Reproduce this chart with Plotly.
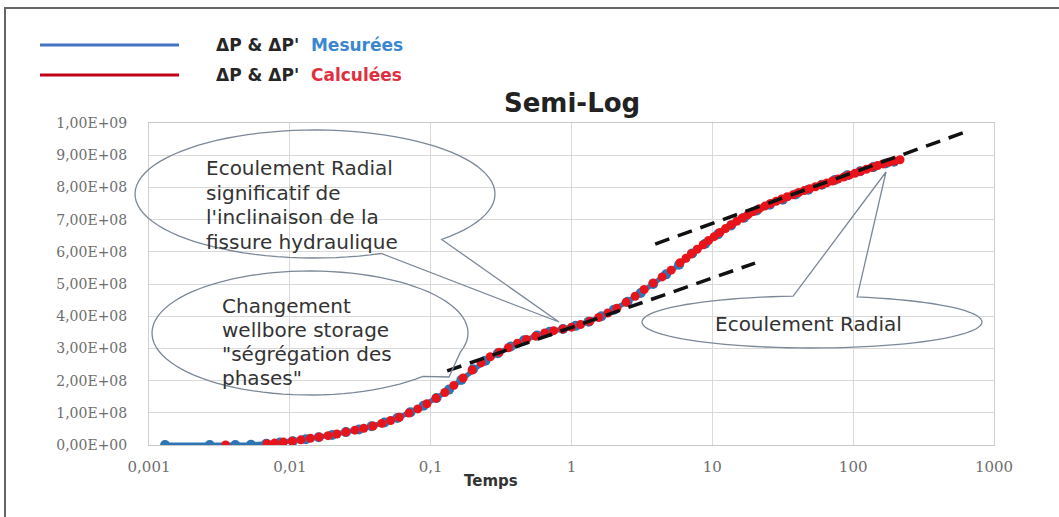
import math
import plotly.graph_objects as go

# ---------------- data ----------------
# Mesurées (blue): time and pressure change (units of 1e8)
blue_t = [0.0013, 0.0027, 0.0041, 0.0053, 0.0068, 0.0085, 0.0105, 0.013, 0.016, 0.02,
          0.025, 0.031, 0.038, 0.047, 0.058, 0.072, 0.089, 0.11, 0.135, 0.165,
          0.2, 0.245, 0.3, 0.37, 0.46, 0.57, 0.7, 0.87, 1.07, 1.32,
          1.63, 2.0, 2.5, 3.1, 3.8, 4.7, 5.8, 7.2, 8.9, 11,
          13.6, 16.8, 20.7, 25.6, 31.6, 39, 48, 60, 74, 91,
          112, 139, 170, 195]
blue_dp = [0, 0, 0, 0.01, 0.04, 0.08, 0.12, 0.18, 0.24, 0.31,
           0.40, 0.48, 0.58, 0.70, 0.84, 1.02, 1.22, 1.46, 1.72, 2.02,
           2.35, 2.62, 2.85, 3.06, 3.25, 3.40, 3.52, 3.60, 3.70, 3.83,
           4.00, 4.20, 4.45, 4.72, 5.00, 5.30, 5.60, 5.95, 6.25, 6.55,
           6.82, 7.06, 7.28, 7.46, 7.62, 7.78, 7.93, 8.08, 8.23, 8.38,
           8.50, 8.63, 8.74, 8.80]

# Calculées (red)
red_t = [0.0035, 0.0069, 0.0078, 0.009, 0.0104, 0.012, 0.014, 0.0162, 0.0187, 0.0216,
         0.025, 0.029, 0.0335, 0.039, 0.045, 0.052, 0.06, 0.07, 0.081, 0.094,
         0.109, 0.126, 0.146, 0.17, 0.197, 0.228, 0.265, 0.307, 0.356, 0.413,
         0.479, 0.556, 0.645, 0.748, 0.868, 1.0, 1.16, 1.35, 1.56, 1.81,
         2.1, 2.44, 2.83, 3.28, 3.8, 4.4, 5.1, 5.9, 6.5, 7.1,
         7.8, 8.6, 9.4, 10.3, 11.3, 12.4, 13.6, 14.9, 16.3, 17.9,
         19.6, 21.5, 23.6, 25.9, 28.4, 31.1, 34.1, 37.4, 41, 45,
         49.3, 54, 59.2, 65, 71.2, 78, 85.6, 93.8, 103, 113,
         124, 136, 149, 163, 179, 196, 215]
red_dp = [0, 0.04, 0.06, 0.09, 0.12, 0.16, 0.21, 0.25, 0.29, 0.34,
          0.40, 0.46, 0.52, 0.59, 0.67, 0.76, 0.86, 0.99, 1.12, 1.28,
          1.45, 1.63, 1.85, 2.08, 2.33, 2.55, 2.74, 2.88, 3.02, 3.16,
          3.28, 3.38, 3.48, 3.55, 3.60, 3.66, 3.74, 3.84, 3.96, 4.10,
          4.25, 4.43, 4.62, 4.83, 5.03, 5.22, 5.43, 5.66, 5.80, 5.94,
          6.08, 6.22, 6.35, 6.47, 6.60, 6.72, 6.84, 6.95, 7.05, 7.15,
          7.25, 7.34, 7.42, 7.50, 7.57, 7.64, 7.71, 7.77, 7.84, 7.90,
          7.96, 8.02, 8.08, 8.14, 8.20, 8.26, 8.32, 8.38, 8.44, 8.50,
          8.56, 8.62, 8.68, 8.73, 8.78, 8.82, 8.86]

# tangent (radial flow) dashed lines
upper_t = [3.93, 624]
upper_dp = [6.24, 9.72]
lower_t = [0.131, 20.1]
lower_dp = [2.30, 5.65]

UNIT = 1e8
x_tick_vals = [0.001, 0.01, 0.1, 1, 10, 100, 1000]
x_tick_text = ["0,001", "0,01", "0,1", "1", "10", "100", "1000"]
y_tick_vals = [i * 1e8 for i in range(11)]
y_tick_text = ["0,00E+00", "1,00E+08", "2,00E+08", "3,00E+08", "4,00E+08", "5,00E+08",
               "6,00E+08", "7,00E+08", "8,00E+08", "9,00E+08", "1,00E+09"]

# ---------------- layout geometry (pixels) ----------------
W, H = 1059, 517
ML, MR, MT, MB = 149, 65, 123, 72
PW, PH = W - ML - MR, H - MT - MB
BASE = H - MB


def px(x, y):
    return (x - ML) / PW, (BASE - y) / PH


def callout_path(cx, cy, rx, ry, b1, tip, b2, n=90):
    t1 = math.atan2((b1[1] - cy) / ry, (b1[0] - cx) / rx)
    t2 = math.atan2((b2[1] - cy) / ry, (b2[0] - cx) / rx)
    d = (t2 - t1) % (2 * math.pi)
    if d < math.pi:
        start, span = t2, 2 * math.pi - d
    else:
        start, span = t1, d
    pts = []
    for i in range(n + 1):
        a = start + span * i / n
        pts.append(px(cx + rx * math.cos(a), cy + ry * math.sin(a)))
    pts.append(px(*tip))
    s = "M {:.5f},{:.5f} ".format(*pts[0])
    s += " ".join("L {:.5f},{:.5f}".format(*p) for p in pts[1:])
    return s + " Z"


fig = go.Figure()

fig.add_trace(go.Scatter(
    x=blue_t, y=[v * UNIT for v in blue_dp], mode="lines+markers",
    line=dict(color="#2e75b6", width=5),
    marker=dict(color="#2e75b6", size=10),
    name="Mesurées", hoverinfo="skip"))

fig.add_trace(go.Scatter(
    x=red_t, y=[v * UNIT for v in red_dp], mode="markers",
    marker=dict(color="#e8141c", size=9),
    name="Calculées", hoverinfo="skip"))

for tt, vv in ((upper_t, upper_dp), (lower_t, lower_dp)):
    fig.add_trace(go.Scatter(
        x=tt, y=[v * UNIT for v in vv], mode="lines",
        line=dict(color="#111111", width=3.5, dash="15px,9px"),
        hoverinfo="skip", showlegend=False))

shapes = []
# outer frame
x0, y0 = px(5, 8)
x1, y1 = px(1080, 540)
shapes.append(dict(type="rect", xref="paper", yref="paper", x0=x0, y0=y0, x1=x1, y1=y1,
                   line=dict(color="#666666", width=2), fillcolor="rgba(0,0,0,0)", layer="below"))
# legend lines
for yy, col in ((45, "#4472c4"), (75, "#c00018")):
    a = px(40, yy)
    b = px(179, yy)
    shapes.append(dict(type="line", xref="paper", yref="paper", x0=a[0], y0=a[1], x1=b[0], y1=b[1],
                       line=dict(color=col, width=3)))
# callouts
co_line = dict(color="#7b8898", width=1.3)
shapes.append(dict(type="path", xref="paper", yref="paper",
                   path=callout_path(315, 194, 180, 64, (384, 256), (559, 322), (446, 241)),
                   line=co_line, fillcolor="rgba(0,0,0,0)"))
shapes.append(dict(type="path", xref="paper", yref="paper",
                   path=callout_path(310, 333, 158, 62, (461, 352), (449, 377), (430, 379)),
                   line=co_line, fillcolor="rgba(0,0,0,0)"))
shapes.append(dict(type="path", xref="paper", yref="paper",
                   path=callout_path(812, 322, 170, 26, (793, 296), (886, 172), (857, 297)),
                   line=co_line, fillcolor="rgba(0,0,0,0)"))

annotations = []


def text(x, y, s, size, color="#333333", family="DejaVu Sans", xanchor="left", bold=False):
    ax, ay = px(x, y)
    if bold:
        s = "<b>" + s + "</b>"
    annotations.append(dict(xref="paper", yref="paper", x=ax, y=ay, text=s, showarrow=False,
                            xanchor=xanchor, yanchor="middle",
                            font=dict(family=family, size=size, color=color)))


# title, legend, axis title
text(572, 103, "Semi-Log", 26, color="#222222", xanchor="center", bold=True)
text(214, 45, "ΔP &amp; ΔP'  <span style='color:#3a87cf'>Mesurées</span>", 17, color="#262626", bold=True)
text(214, 75, "ΔP &amp; ΔP'  <span style='color:#e03040'>Calculées</span>", 17, color="#262626", bold=True)
text(491, 481, "Temps", 15, color="#333333", xanchor="center", bold=True)

# callout texts
for i, s in enumerate(["Ecoulement Radial", "significatif de", "l'inclinaison de la", "fissure hydraulique"]):
    text(204, 168 + 24.5 * i, s, 20)
for i, s in enumerate(["Changement", "wellbore storage", "\"ségrégation des", "phases\""]):
    text(220, 306 + 24 * i, s, 20)
text(808, 324, "Ecoulement Radial", 20, xanchor="center")

fig.update_layout(
    width=W, height=H,
    margin=dict(l=ML, r=MR, t=MT, b=MB, pad=0),
    paper_bgcolor="white", plot_bgcolor="white",
    showlegend=False,
    shapes=shapes, annotations=annotations,
    xaxis=dict(type="log", range=[-3, 3], tickvals=x_tick_vals, ticktext=x_tick_text,
               showgrid=True, gridcolor="#d9d9d9", gridwidth=1, zeroline=False,
               showline=True, linecolor="#c8c8c8", linewidth=1, mirror=True,
               ticks="", ticklabelstandoff=8,
               tickfont=dict(family="DejaVu Serif", size=15, color="#6e6e6e")),
    yaxis=dict(range=[0, 1e9], tickvals=y_tick_vals, ticktext=y_tick_text,
               showgrid=True, gridcolor="#d9d9d9", gridwidth=1, zeroline=False,
               showline=True, linecolor="#d0d0d0", linewidth=1, mirror=True,
               ticks="", ticklabelstandoff=18,
               tickfont=dict(family="DejaVu Serif", size=14, color="#6e6e6e")),
)

fig.write_html("out.html")
